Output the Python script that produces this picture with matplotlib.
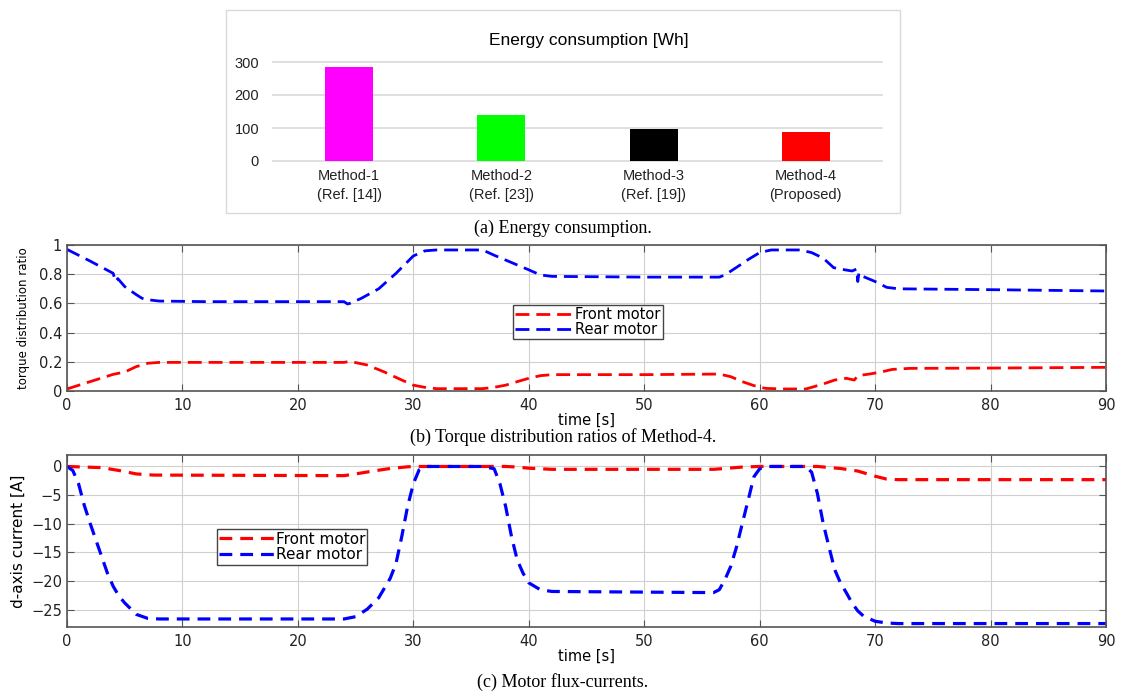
import matplotlib.pyplot as plt
import numpy as np
from matplotlib.patches import Rectangle

# (a) energy consumption
methods = ['Method-1\n(Ref. [14])', 'Method-2\n(Ref. [23])', 'Method-3\n(Ref. [19])', 'Method-4\n(Proposed)']
energy = [286, 139, 97, 87]
bar_colors = ['#ff00ff', '#00ff00', '#000000', '#ff0000']

# (b) torque distribution ratio
t_ratio = [0, 2, 4, 4.2, 4.4, 5, 6, 6.5, 7, 8, 12, 24, 24.3, 24.5, 25.5, 27, 28.5, 30, 31, 32, 36, 37,
           38.5, 40, 41, 42, 50, 56.5, 57, 58, 59, 60, 61, 63.5, 64.5, 65.5, 66.2, 66.4, 67, 68, 68.4, 68.5,
           68.6, 69, 70, 71, 72, 80, 90]
rear_ratio = [0.97, 0.89, 0.806, 0.75, 0.77, 0.715, 0.66, 0.635, 0.625, 0.616, 0.612, 0.612, 0.596, 0.60,
              0.635, 0.70, 0.806, 0.925, 0.96, 0.966, 0.966, 0.93, 0.88, 0.83, 0.795, 0.785, 0.78, 0.78,
              0.795, 0.847, 0.90, 0.948, 0.966, 0.966, 0.948, 0.91, 0.86, 0.845, 0.835, 0.822, 0.835, 0.75,
              0.81, 0.783, 0.75, 0.71, 0.70, 0.694, 0.685]
t_front = [0, 2, 4, 5, 6, 7, 8, 24, 24.5, 26, 27.5, 29, 30, 31, 32, 36, 37, 38, 39, 40, 41, 42, 50, 56.5,
           57.5, 58.5, 59.5, 60.5, 62, 64, 64.5, 65.5, 66.5, 67.5, 68.2, 68.5, 69.5, 70.5, 71.5, 73, 80, 90]
front_ratio = [0.014, 0.064, 0.114, 0.13, 0.167, 0.19, 0.196, 0.196, 0.203, 0.178, 0.13, 0.075, 0.04,
               0.025, 0.016, 0.016, 0.025, 0.04, 0.064, 0.087, 0.105, 0.112, 0.112, 0.116, 0.098, 0.064,
               0.037, 0.018, 0.014, 0.014, 0.025, 0.048, 0.075, 0.087, 0.075, 0.105, 0.116, 0.13, 0.148,
               0.155, 0.157, 0.162]

# (c) d-axis current
t_id_front = [0, 3, 4.5, 6, 7.5, 24, 25, 26.5, 28, 29.5, 30, 38, 39, 40, 42, 56, 57, 58.5, 60, 65, 67,
              68.5, 70, 71, 72, 90]
id_front = [0, -0.2, -0.7, -1.3, -1.5, -1.6, -1.3, -0.8, -0.35, -0.06, 0, 0, -0.1, -0.3, -0.5, -0.5,
            -0.35, -0.1, 0, 0, -0.35, -0.8, -1.7, -2.2, -2.3, -2.3]
t_id_rear = [0, 0.5, 1, 1.5, 2, 2.5, 3, 3.5, 4, 4.5, 5, 6, 7, 8, 24, 25, 26, 27, 28, 28.5, 29, 29.5, 30,
             30.5, 31, 36, 37, 37.5, 38, 38.5, 39, 39.5, 40, 41, 42, 56, 56.5, 57, 57.5, 58, 58.5, 59,
             59.5, 60, 60.5, 64, 64.5, 65, 65.5, 66, 66.5, 67, 67.5, 68, 68.5, 69, 70, 71, 72, 90]
id_rear = [0, -0.7, -3, -6.8, -9.9, -12.8, -15.7, -18.6, -20.9, -22.6, -23.8, -25.8, -26.5, -26.6, -26.6,
           -26.2, -24.9, -22.9, -19.5, -16.9, -12.2, -7, -3, -0.6, 0, 0, -0.4, -3, -7, -12.2, -16.3,
           -18.6, -20.3, -21.5, -21.8, -22.0, -21.5, -19.7, -17.4, -14, -9.9, -5.9, -1.8, -0.4, 0, 0,
           -1, -4.7, -9.9, -14, -18, -20.3, -22, -23.8, -25.2, -26.1, -27, -27.3, -27.4, -27.4]

fig = plt.figure(figsize=(11.21, 6.93), dpi=100)
W, H = 1121, 693

def ax_rect(x0, y0, x1, y1):
    return [x0 / W, 1 - y1 / H, (x1 - x0) / W, (y1 - y0) / H]

# outer box of the bar chart
fig.patches.append(Rectangle((226 / W, 1 - 213 / H), (900 - 226) / W, (213 - 10) / H,
                             transform=fig.transFigure, fill=False, edgecolor='#d9d9d9', lw=1))

ax0 = fig.add_axes(ax_rect(273, 62, 882, 161))
x = np.arange(len(methods))
ax0.bar(x, energy, width=0.315, color=bar_colors, zorder=3)
ax0.set_xlim(-0.5, 3.5)
ax0.set_ylim(0, 300)
ax0.set_yticks([0, 100, 200, 300])
ax0.set_xticks(x)
ax0.set_xticklabels(methods, fontsize=10.5, family='Liberation Sans', color='#222222', linespacing=1.4)
for lab in ax0.get_yticklabels():
    lab.set_fontsize(10.5)
    lab.set_family('Liberation Sans')
    lab.set_color('#222222')
ax0.tick_params(length=0, pad=10, axis='y')
ax0.tick_params(length=0, pad=6, axis='x')
ax0.grid(axis='y', color='#d9d9d9', lw=1.2, zorder=0)
for gl in ax0.get_ygridlines():
    gl.set_clip_on(False)
for s in ax0.spines.values():
    s.set_visible(False)
fig.text(589 / W, 1 - 41 / H, 'Energy consumption [Wh]', ha='center', va='center',
         fontsize=12.5, family='Liberation Sans')

def style_line_axes(ax):
    ax.grid(color='#d0d0d0', lw=0.8)
    ax.tick_params(direction='in', top=True, right=True, length=5, color='#555555',
                   labelsize=10.5, labelcolor='#222222')
    ax.tick_params(axis='x', pad=5)
    for s in ax.spines.values():
        s.set_color('#555555')
        s.set_linewidth(1.2)
    ax.set_xlim(0, 90)
    ax.set_xticks(range(0, 91, 10))

# (b)
ax1 = fig.add_axes(ax_rect(67, 245, 1106, 391))
ax1.plot(t_front, front_ratio, color='#ff0000', ls=(0, (5, 2.5)), lw=2, label='Front motor')
ax1.plot(t_ratio, rear_ratio, color='#0000ff', ls=(0, (5, 2.5)), lw=2, label='Rear motor')
ax1.set_ylim(0, 1)
ax1.set_yticks([0, 0.2, 0.4, 0.6, 0.8, 1])
ax1.set_yticklabels(['0', '0.2', '0.4', '0.6', '0.8', '1'])
style_line_axes(ax1)
ax1.set_xlabel('time [s]', fontsize=10.5, labelpad=0)
ax1.set_ylabel('torque distribution ratio', fontsize=8.5, labelpad=6)
leg1 = ax1.legend(loc='center', bbox_to_anchor=(588 / W, 1 - 322 / H), bbox_transform=fig.transFigure,
                  fontsize=10.5, fancybox=False, edgecolor='#444444', framealpha=1, handlelength=4,
                  handletextpad=0.1, borderpad=0.15, labelspacing=0.0, borderaxespad=0)
leg1.get_frame().set_linewidth(1)

# (c)
ax2 = fig.add_axes(ax_rect(67, 455, 1106, 627))
ax2.plot(t_id_front, id_front, color='#ff0000', ls=(0, (4, 2.5)), lw=2.3, label='Front motor')
ax2.plot(t_id_rear, id_rear, color='#0000ff', ls=(0, (4, 2.5)), lw=2.3, label='Rear motor')
ax2.set_ylim(-28, 2)
ax2.set_yticks([0, -5, -10, -15, -20, -25])
style_line_axes(ax2)
ax2.set_xlabel('time [s]', fontsize=10.5, labelpad=0)
ax2.set_ylabel('d-axis current [A]', fontsize=11, labelpad=4)
leg2 = ax2.legend(loc='center', bbox_to_anchor=(292 / W, 1 - 547 / H), bbox_transform=fig.transFigure,
                  fontsize=11, fancybox=False, edgecolor='#444444', framealpha=1, handlelength=3.6,
                  handletextpad=0.1, borderpad=0.15, labelspacing=0.05, borderaxespad=0)
leg2.get_frame().set_linewidth(1)

# captions
cap = dict(ha='center', va='center', fontsize=13, family='Liberation Serif')
fig.text(563 / W, 1 - 228 / H, '(a) Energy consumption.', **cap)
fig.text(563 / W, 1 - 437 / H, '(b) Torque distribution ratios of Method-4.', **cap)
fig.text(563 / W, 1 - 682 / H, '(c) Motor flux-currents.', **cap)

fig.savefig('out.png', dpi=100)
